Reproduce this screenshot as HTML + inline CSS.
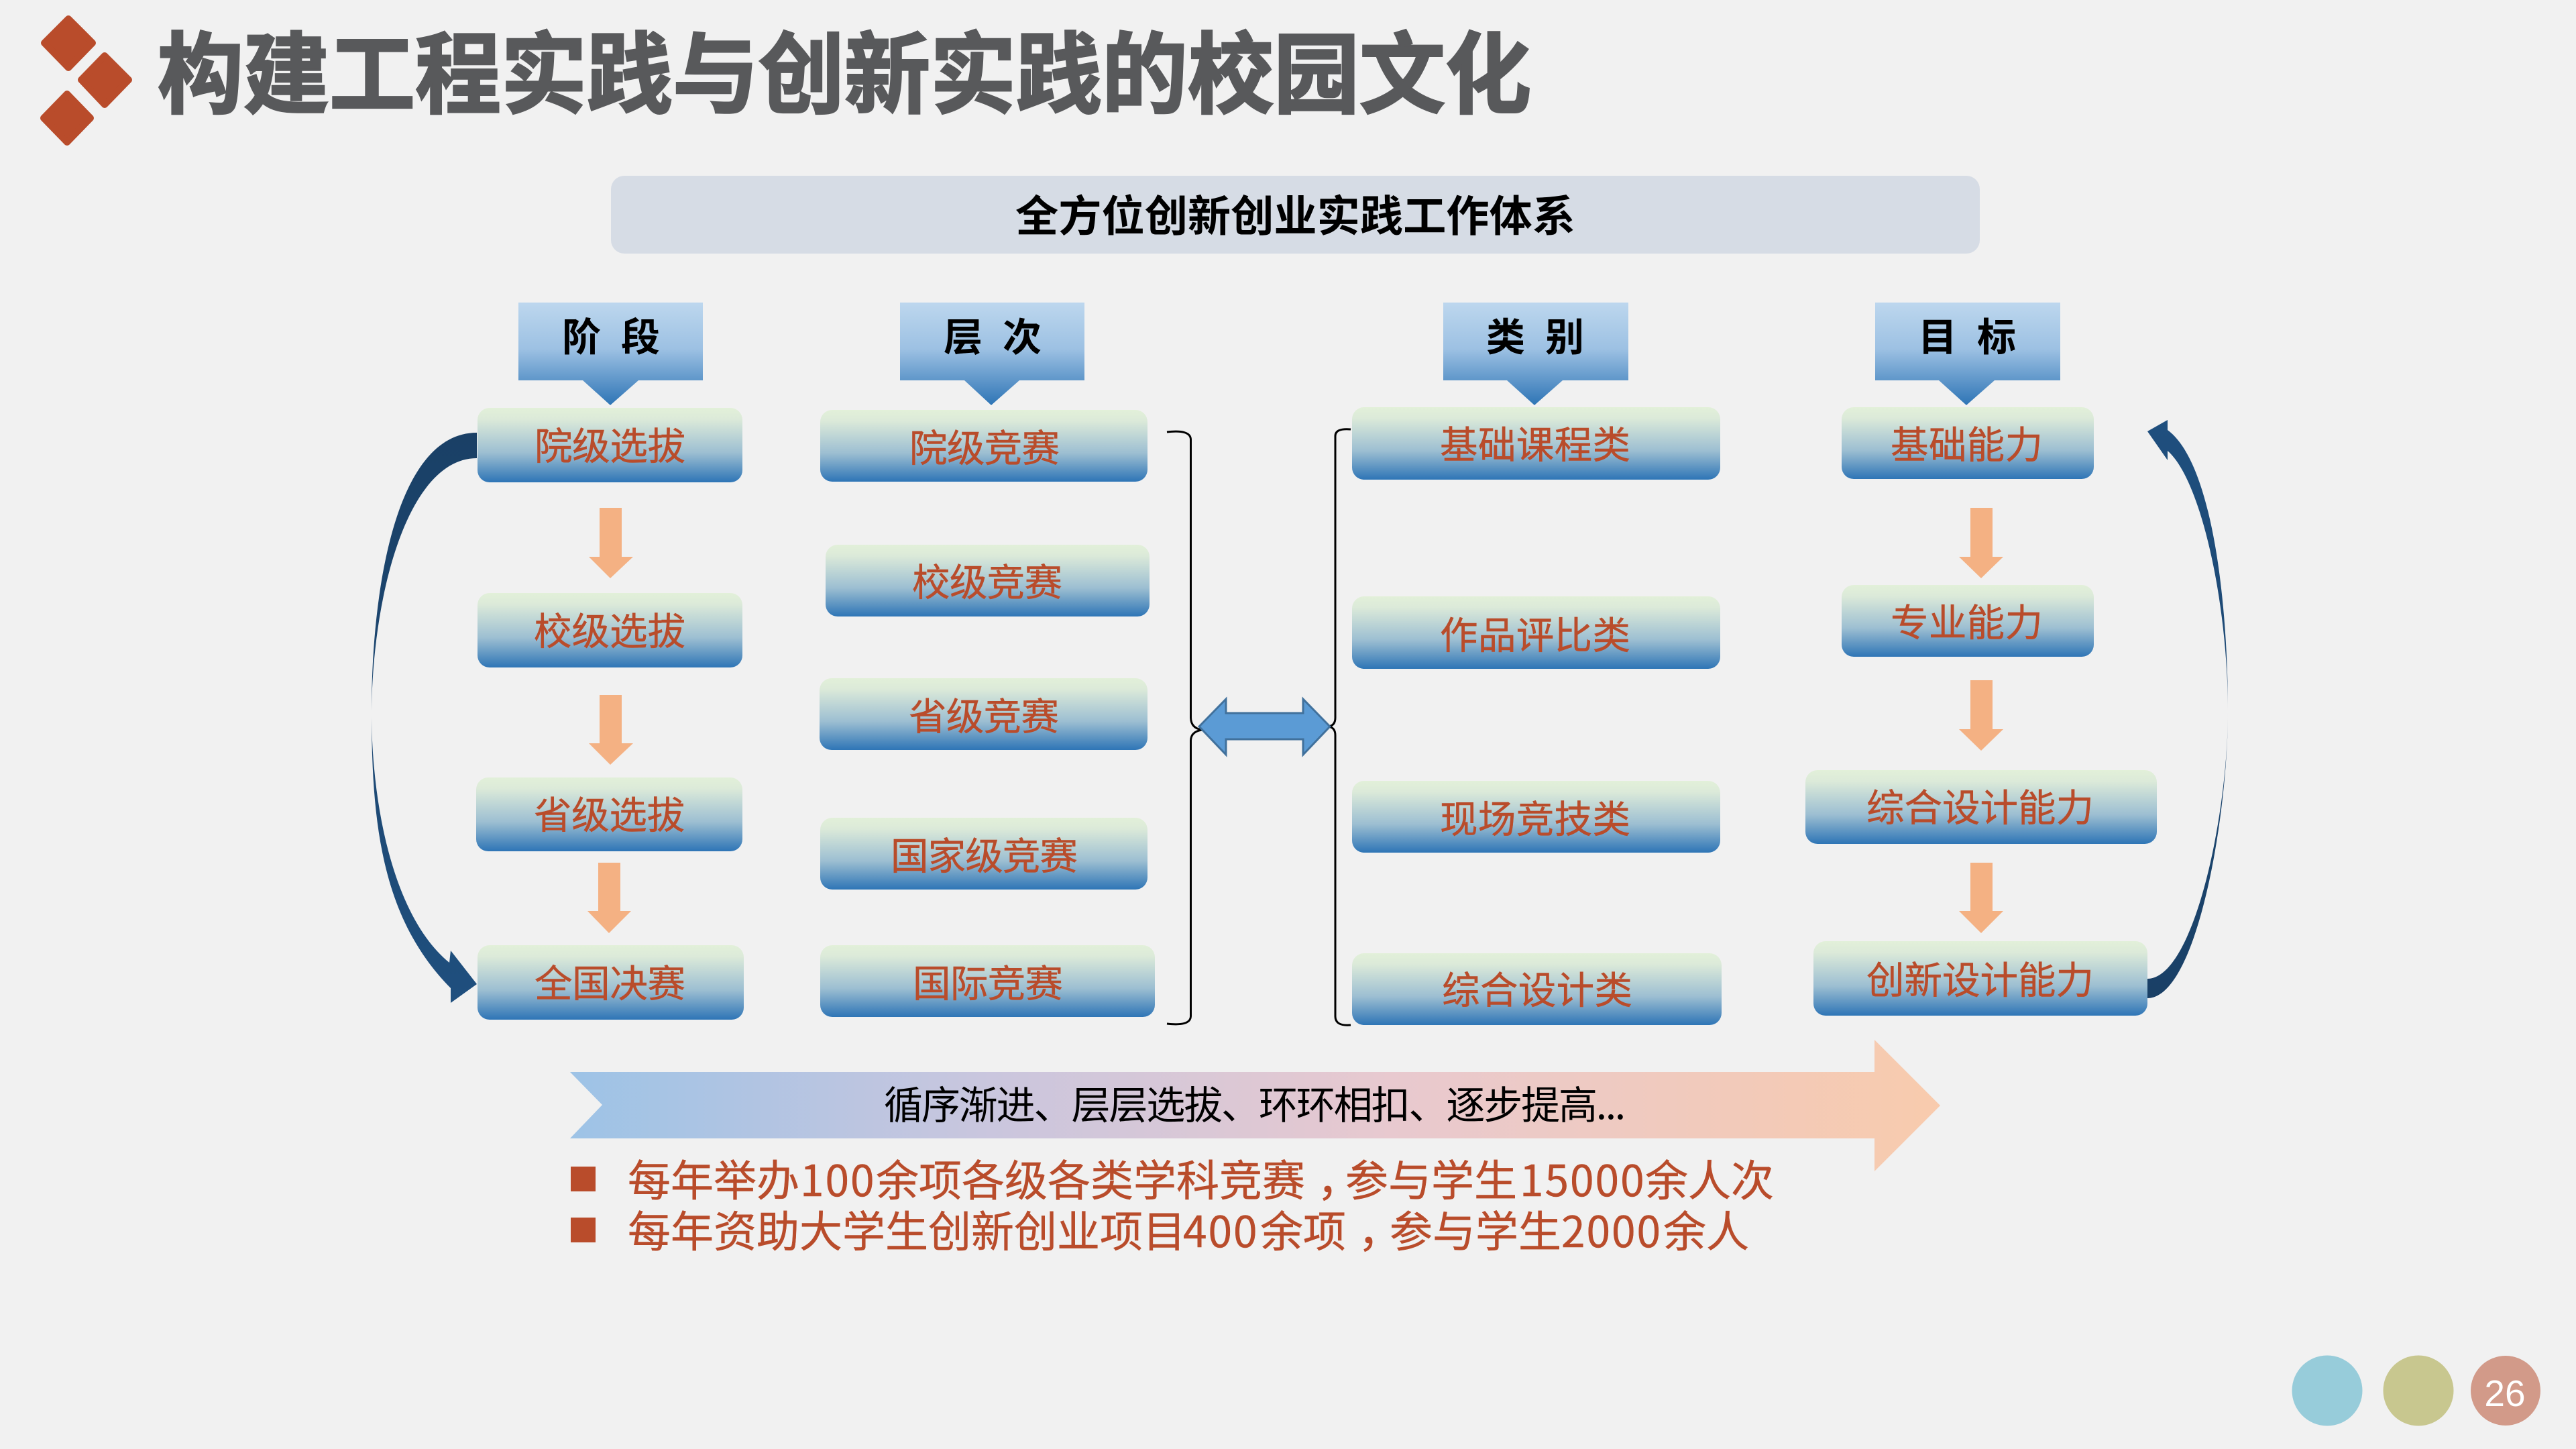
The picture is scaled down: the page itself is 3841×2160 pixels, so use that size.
<!DOCTYPE html>
<html lang="zh-CN"><head><meta charset="utf-8"><title>构建工程实践与创新实践的校园文化</title>
<style>
html,body{margin:0;padding:0;background:#F1F1F1}
svg{display:block}
text{font-family:"Liberation Sans","Noto Sans CJK SC",sans-serif}
.t{font-family:"Noto Sans CJK SC","Liberation Sans",sans-serif;font-size:56.5px;fill:#B94C2B;stroke:#B94C2B;stroke-width:.5}
.h{font-family:"Noto Sans CJK SC","Liberation Sans",sans-serif;font-size:58px;font-weight:700;fill:#000}
.b{font-family:"Noto Sans CJK SC","Liberation Sans",sans-serif;font-size:64px;fill:#B94C2B;stroke:#B94C2B;stroke-width:.5}
.d{letter-spacing:2px}
</style></head><body>
<svg xmlns="http://www.w3.org/2000/svg" width="3841" height="2160" viewBox="0 0 3841 2160">
<defs>
<linearGradient id="g" x1="0" y1="0" x2="0" y2="1"><stop offset="0" stop-color="#E2F0D9"/><stop offset=".15" stop-color="#DCEAD9"/><stop offset=".6" stop-color="#9DBFD2"/><stop offset="1" stop-color="#2E75B6"/></linearGradient>
<linearGradient id="hg" x1="0" y1="0" x2="0" y2="1"><stop offset="0" stop-color="#BDD7EE"/><stop offset=".45" stop-color="#9DC1E3"/><stop offset="1" stop-color="#2E75B6"/></linearGradient>
<linearGradient id="big" x1="0" y1="0" x2="1" y2="0"><stop offset="0" stop-color="#9DC3E6"/><stop offset=".3" stop-color="#C9C6DE"/><stop offset=".6" stop-color="#E8C9CF"/><stop offset="1" stop-color="#F8CBAD"/></linearGradient>
<linearGradient id="la" gradientUnits="userSpaceOnUse" x1="0" y1="640" x2="0" y2="1500"><stop offset="0" stop-color="#1A4066"/><stop offset="1" stop-color="#1F4F7E"/></linearGradient>
<linearGradient id="ra" gradientUnits="userSpaceOnUse" x1="0" y1="626" x2="0" y2="1490"><stop offset="0" stop-color="#1F4F7E"/><stop offset="1" stop-color="#1A4066"/></linearGradient>
</defs>
<rect width="3841" height="2160" fill="#F1F1F1"/>

<!-- diamonds -->
<g fill="#B94C2B" stroke="#B94C2B" stroke-width="10" stroke-linejoin="round">
<polygon points="102,28 138,64 102,101 66,64"/>
<polygon points="156,83 192,119 156,156 121,119"/>
<polygon points="100,140 135,176 100,212 65,176"/>
</g>
<text x="235" y="158" font-size="132" font-weight="700" fill="#58595B" stroke="#58595B" stroke-width="3" textLength="2048" lengthAdjust="spacingAndGlyphs" style="font-family:'Noto Sans CJK SC','Liberation Sans',sans-serif">构建工程实践与创新实践的校园文化</text>

<!-- top bar -->
<rect x="911" y="262" width="2041" height="116" rx="20" fill="#D6DCE5"/>
<text x="1514" y="345" font-size="64" font-weight="700" fill="#000" textLength="835" lengthAdjust="spacingAndGlyphs" style="font-family:'Noto Sans CJK SC','Liberation Sans',sans-serif">全方位创新创业实践工作体系</text>

<!-- header callouts -->
<polygon fill="url(#hg)" points="773,451 1048,451 1048,567 952,567 910,604 869,567 773,567"/>
<polygon fill="url(#hg)" points="1342,451 1617,451 1617,567 1520,567 1478,604 1438,567 1342,567"/>
<polygon fill="url(#hg)" points="2152,451 2428,451 2428,567 2330,567 2288,604 2247,567 2152,567"/>
<polygon fill="url(#hg)" points="2796,451 3072,451 3072,567 2974,567 2932,604 2891,567 2796,567"/>
<text class="h" x="838" y="523">阶</text><text class="h" x="926" y="523">段</text>
<text class="h" x="1407" y="523">层</text><text class="h" x="1495" y="523">次</text>
<text class="h" x="2216" y="523">类</text><text class="h" x="2304" y="523">别</text>
<text class="h" x="2860" y="523">目</text><text class="h" x="2948" y="523">标</text>

<!-- column 1 -->
<g fill="url(#g)">
<rect x="712" y="608" width="395" height="111" rx="18"/>
<rect x="712" y="884" width="395" height="111" rx="18"/>
<rect x="710" y="1159" width="397" height="110" rx="18"/>
<rect x="712" y="1409" width="397" height="111" rx="18"/>
<!-- column 2 -->
<rect x="1223" y="611" width="488" height="107" rx="18"/>
<rect x="1231" y="812" width="483" height="107" rx="18"/>
<rect x="1222" y="1011" width="489" height="107" rx="18"/>
<rect x="1223" y="1219" width="488" height="107" rx="18"/>
<rect x="1223" y="1409" width="499" height="107" rx="18"/>
<!-- column 3 -->
<rect x="2016" y="607" width="549" height="108" rx="18"/>
<rect x="2016" y="889" width="549" height="108" rx="18"/>
<rect x="2016" y="1164" width="549" height="107" rx="18"/>
<rect x="2016" y="1421" width="551" height="107" rx="18"/>
<!-- column 4 -->
<rect x="2746" y="607" width="376" height="107" rx="18"/>
<rect x="2746" y="872" width="376" height="107" rx="18"/>
<rect x="2692" y="1148" width="524" height="110" rx="18"/>
<rect x="2704" y="1403" width="498" height="111" rx="18"/>
</g>

<!-- box labels -->
<text class="t" x="797" y="685" textLength="225" lengthAdjust="spacing">院级选拔</text>
<text class="t" x="796" y="961" textLength="226" lengthAdjust="spacing">校级选拔</text>
<text class="t" x="796" y="1235" textLength="225" lengthAdjust="spacing">省级选拔</text>
<text class="t" x="797" y="1486" textLength="225" lengthAdjust="spacing">全国决赛</text>

<text class="t" x="1356" y="688" textLength="224" lengthAdjust="spacing">院级竞赛</text>
<text class="t" x="1360" y="888" textLength="224" lengthAdjust="spacing">校级竞赛</text>
<text class="t" x="1355" y="1088" textLength="224" lengthAdjust="spacing">省级竞赛</text>
<text class="t" x="1328" y="1296" textLength="279" lengthAdjust="spacing">国家级竞赛</text>
<text class="t" x="1361" y="1486" textLength="224" lengthAdjust="spacing">国际竞赛</text>

<text class="t" x="2147" y="683" textLength="284" lengthAdjust="spacing">基础课程类</text>
<text class="t" x="2147" y="967" textLength="284" lengthAdjust="spacing">作品评比类</text>
<text class="t" x="2147" y="1241" textLength="284" lengthAdjust="spacing">现场竞技类</text>
<text class="t" x="2150" y="1496" textLength="284" lengthAdjust="spacing">综合设计类</text>

<text class="t" x="2819" y="683" textLength="227" lengthAdjust="spacing">基础能力</text>
<text class="t" x="2819" y="948" textLength="227" lengthAdjust="spacing">专业能力</text>
<text class="t" x="2783" y="1224" textLength="339" lengthAdjust="spacing">综合设计能力</text>
<text class="t" x="2783" y="1481" textLength="339" lengthAdjust="spacing">创新设计能力</text>

<!-- orange arrows -->
<g fill="#F4B183">
<polygon points="894,757 927,757 927,830 944,830 910,862 878,830 894,830"/>
<polygon points="894,1036 927,1036 927,1108 944,1108 910,1140 878,1108 894,1108"/>
<polygon points="892,1286 925,1286 925,1358 941,1358 908,1391 876,1358 892,1358"/>
<polygon points="2938,757 2971,757 2971,830 2987,830 2954,862 2921,830 2938,830"/>
<polygon points="2938,1014 2971,1014 2971,1087 2987,1087 2954,1119 2921,1087 2938,1087"/>
<polygon points="2938,1286 2971,1286 2971,1358 2987,1358 2954,1391 2921,1358 2938,1358"/>
</g>

<!-- braces -->
<g fill="none" stroke="#000" stroke-width="3">
<path d="M1740 644 Q1775 640 1775.5 655 L1775.5 1070 Q1776 1086 1793 1088 Q1776 1090 1775.5 1104 L1775.5 1515 Q1775 1530 1740 1526"/>
<path d="M2014 640 Q1991 638 1991 650 L1991 1070 Q1991 1082 1980 1083 Q1991 1084 1991 1096 L1991 1515 Q1991 1530 2014 1528"/>
</g>

<!-- double arrow -->
<polygon fill="#5B9BD5" stroke="#41719C" stroke-width="3" points="1788,1083 1828,1042 1828,1063 1943,1063 1943,1042 1983,1083 1943,1125 1943,1102 1828,1102 1828,1125"/>

<!-- curved arrows -->
<path fill="url(#la)" d="M711 645 C590 645 554 880 554 1060 C554 1230 570 1370 672 1473 L672 1495 L711 1467 L672 1417 L670 1435 C590 1370 554 1210 554 1060 C556 880 610 683 711 683 Z"/>
<path fill="url(#ra)" d="M3202 1488 C3275 1488 3322 1220 3322 1060 C3322 900 3299 690 3232 641 L3232 626 L3202 643 L3232 686 L3232 672 C3282 715 3322 900 3322 1060 C3322 1220 3270 1459 3202 1459 Z"/>

<!-- big arrow -->
<polygon fill="url(#big)" points="850,1598 2795,1598 2795,1550 2893,1648 2795,1746 2795,1697 850,1697 898,1647"/>
<text x="1318" y="1668" font-size="58" fill="#000" textLength="1106" lengthAdjust="spacing" style="font-family:'Noto Sans CJK SC','Liberation Sans',sans-serif">循序渐进、层层选拔、环环相扣、逐步提高...</text>

<!-- bullets -->
<rect x="851" y="1739" width="37" height="37" fill="#B94C2B"/>
<rect x="851" y="1815" width="37" height="37" fill="#B94C2B"/>
<text class="b" y="1783"><tspan x="936">每年举办</tspan><tspan x="1193" class="d">100</tspan><tspan x="1306">余项各级各类学科竞赛</tspan><tspan dx="18">，</tspan><tspan x="2006">参与学生</tspan><tspan x="2266" class="d">15000</tspan><tspan x="2453">余人次</tspan></text>
<text class="b" y="1859"><tspan x="936">每年资助大学生创新创业项目</tspan><tspan x="1764" class="d">400</tspan><tspan x="1879">余项</tspan><tspan dx="18">，</tspan><tspan x="2072">参与学生</tspan><tspan x="2328" class="d">2000</tspan><tspan x="2480">余人</tspan></text>

<!-- page circles -->
<circle cx="3470" cy="2073" r="52.5" fill="#97CCDA"/>
<circle cx="3606" cy="2073" r="52.5" fill="#C8C78F"/>
<circle cx="3736" cy="2073" r="52" fill="#D29A89"/>
<text x="3735" y="2096" font-size="55" fill="#fff" text-anchor="middle">26</text>
</svg>
</body></html>
